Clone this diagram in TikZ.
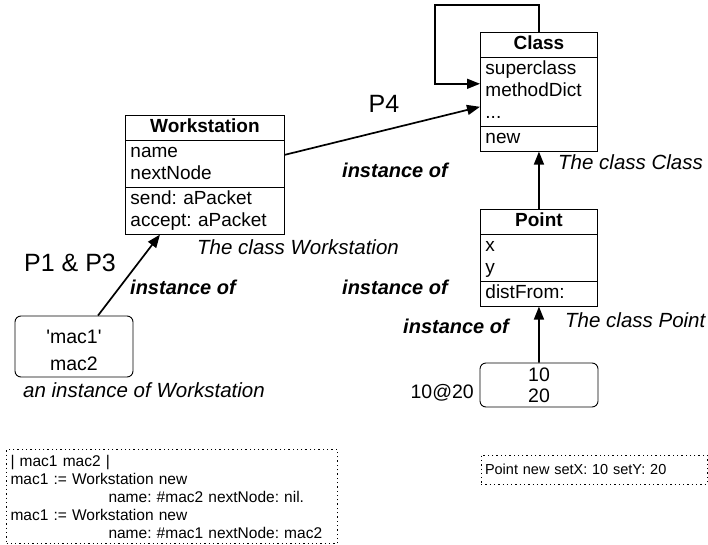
\documentclass[tikz,border=0pt]{standalone}
\usepackage{fontspec}
\setmainfont{Liberation Sans}
\usetikzlibrary{arrows.meta, positioning, shapes.multipart, calc}

\newcommand{\boxfont}{\fontsize{19}{22}\selectfont}
\newcommand{\codefont}{\fontsize{15.5}{18}\selectfont}
\frenchspacing

\begin{document}
\begin{tikzpicture}[x=1pt, y=-1pt, font=\fontsize{19.5}{23}\selectfont,
    classbox/.style={draw, line width=0.9pt, rectangle split, rectangle split parts=3,
      text width=#1, align=left, inner xsep=5pt, inner ysep=1pt,
      anchor=north west, font=\boxfont},
    objbox/.style={draw, line width=0.9pt, rounded corners=6pt, align=center,
      minimum width=118pt, inner sep=0pt},
    link/.style={line width=1.7pt, -{Triangle[length=13pt, width=10pt]}},
    note/.style={font=\fontsize{20.5}{23}\selectfont\itshape, anchor=west, inner sep=0pt},
    instof/.style={font=\fontsize{20}{23}\selectfont\bfseries\itshape, inner sep=0pt},
    codebox/.style={draw, line width=1pt, dash pattern=on 1.3pt off 3pt, align=left,
      inner xsep=4pt, font=\codefont}]
  \useasboundingbox (0,0) rectangle (708,545);

  % classes
  \node[classbox=107pt] (class) at (480,32)
    {\strut\hfill\textbf{Class}\hfill\strut
     \nodepart{two}\strut superclass\\\strut methodDict\\\strut ...
     \nodepart{three}\strut new};
  \node[classbox=149pt] (ws) at (125,115)
    {\strut\hfill\textbf{Workstation}\hfill\strut
     \nodepart{two}\strut name\\\strut nextNode
     \nodepart{three}\strut send: aPacket\\\strut accept: aPacket};
  \node[classbox=107pt] (pt) at (480,209)
    {\strut\hfill\textbf{Point}\hfill\strut
     \nodepart{two}\strut x\\\strut y
     \nodepart{three}\strut distFrom:};

  % instances
  \node[objbox, minimum height=61pt, font=\fontsize{19.5}{27}\selectfont, text height=48pt, text depth=0pt] (mac) at (74,346.5)
    {\textquotesingle mac1\textquotesingle\\mac2};
  \node[objbox, minimum height=44pt, font=\fontsize{19.5}{21}\selectfont] (ptobj) at (539,385)
    {10\\20};

  % links
  \coordinate (loop) at (435,5);
  \draw[link] (class.north) |- (loop) |- ([yshift=8pt]class.west);
  \draw[link] ([yshift=20pt]ws.east) -- ([yshift=-15pt]class.west);
  \draw[link] ([xshift=24pt]mac.north) -- ([xshift=-45pt]ws.south);
  \draw[link] (pt.north) -- (class.south);
  \draw[link] (ptobj.north) -- (pt.south);

  % labels
  \node[font=\fontsize{25}{28}\selectfont] (p4) at (384,104) {P4};
  \node[font=\fontsize{25}{28}\selectfont] (p13) at (70,263) {P1 \& P3};
  \node[instof] (io1) at (395,170) {instance of};
  \node[instof] (io2) at (183,287) {instance of};
  \node[instof] (io3) at (395,287) {instance of};
  \node[instof] (io4) at (456,326) {instance of};
  \node[note] (ncls) at (558,162) {The class Class};
  \node[note] (nws) at (197,247) {The class Workstation};
  \node[note] (nmac) at (23,390) {an instance of Workstation};
  \node[note] (npt) at (565,320) {The class Point};
  \node[anchor=east, inner sep=0pt] (at) at (474,393) {10@20};

  % code
  \node[codebox, text width=323pt, minimum height=94pt, anchor=north west] (code1) at (6,449)
    {| mac1 mac2 |\\
     mac1 := Workstation new\\
     \hspace*{98pt}name: \#mac2 nextNode: nil.\\
     mac1 := Workstation new\\
     \hspace*{98pt}name: \#mac1 nextNode: mac2};
  \node[codebox, font=\fontsize{14.5}{17}\selectfont, text width=218pt, minimum height=29pt] (code2) at (594,469.5)
    {Point new setX: 10 setY: 20};
\end{tikzpicture}
\end{document}
